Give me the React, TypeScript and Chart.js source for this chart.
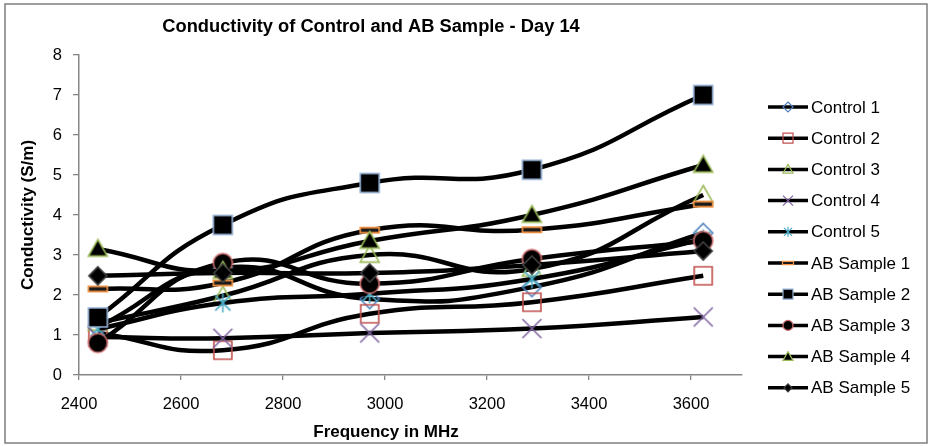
import React, { useEffect, useRef } from 'react';
import { Chart, registerables } from 'chart.js';

Chart.register(...registerables);

const FONT = '"Liberation Sans", Arial, Helvetica, sans-serif';

// ---- data ----
const frequencies = [2437, 2682, 2970, 3288, 3624];
const control1 = [1.2, 2.68, 1.9, 2.2, 3.55];
const control2 = [1.05, 0.62, 1.53, 1.82, 2.48];
const control3 = [1.3, 1.98, 3.0, 2.65, 4.5];
const control4 = [0.95, 0.92, 1.05, 1.16, 1.45];
const control5 = [1.15, 1.8, 2.03, 2.4, 3.4];
const abSample1 = [2.15, 2.3, 3.62, 3.63, 4.27];
const abSample2 = [1.44, 3.75, 4.8, 5.13, 7.0];
const abSample3 = [0.8, 2.8, 2.28, 2.9, 3.35];
const abSample4 = [3.15, 2.6, 3.35, 4.0, 5.25];
const abSample5 = [2.48, 2.55, 2.55, 2.75, 3.1];

const seriesNames = [
  'Control 1', 'Control 2', 'Control 3', 'Control 4', 'Control 5',
  'AB Sample 1', 'AB Sample 2', 'AB Sample 3', 'AB Sample 4', 'AB Sample 5',
];
const seriesValues = [
  control1, control2, control3, control4, control5,
  abSample1, abSample2, abSample3, abSample4, abSample5,
];

const xMin = 2400;
const xMax = 3700;
const xStep = 200;
const yMin = 0;
const yMax = 8;
const yStep = 1;

const chartTitle = 'Conductivity of Control and AB Sample - Day 14';
const xTitle = 'Frequency in MHz';
const yTitle = 'Conductivity (S/m)';

// ---- styles ----
type Kind = 'diamond' | 'square' | 'triangle' | 'x' | 'asterisk' | 'dash' | 'circle';
const markerKinds: Kind[] = ['diamond', 'square', 'triangle', 'x', 'asterisk', 'dash', 'square', 'circle', 'triangle', 'diamond'];
const markerStrokes = ['#4F81BD', '#C0504D', '#9BBB59', '#8064A2', '#4BACC6', '#F79646', '#95B3D7', '#D07070', '#9BBB59', '#404040'];
const markerFills = ['', '', '', '', '', '#1a1a1a', '#000000', '#000000', '#000000', '#000000'];
const markerSizes = [19, 18, 19, 19, 19, 19, 19, 19, 19, 18];
const legendMarkerSizes = [10, 10, 10, 10, 10, 11, 10, 10, 10, 8];

function drawMarker(ctx: CanvasRenderingContext2D, kind: Kind, cx: number, cy: number, s: number, stroke: string, fill: string, lw: number) {
  const h = s / 2;
  ctx.save();
  ctx.lineWidth = lw;
  ctx.strokeStyle = stroke;
  ctx.lineJoin = 'miter';
  ctx.beginPath();
  switch (kind) {
    case 'diamond':
      ctx.moveTo(cx, cy - h);
      ctx.lineTo(cx + h, cy);
      ctx.lineTo(cx, cy + h);
      ctx.lineTo(cx - h, cy);
      ctx.closePath();
      break;
    case 'square':
      ctx.rect(cx - h, cy - h, s, s);
      break;
    case 'triangle':
      ctx.moveTo(cx, cy - h);
      ctx.lineTo(cx + h, cy + h * 0.75);
      ctx.lineTo(cx - h, cy + h * 0.75);
      ctx.closePath();
      break;
    case 'x':
      ctx.moveTo(cx - h, cy - h);
      ctx.lineTo(cx + h, cy + h);
      ctx.moveTo(cx + h, cy - h);
      ctx.lineTo(cx - h, cy + h);
      break;
    case 'asterisk': {
      const d = h * 0.8;
      ctx.moveTo(cx - d, cy - d);
      ctx.lineTo(cx + d, cy + d);
      ctx.moveTo(cx + d, cy - d);
      ctx.lineTo(cx - d, cy + d);
      ctx.moveTo(cx, cy - h);
      ctx.lineTo(cx, cy + h);
      break;
    }
    case 'dash':
      ctx.rect(cx - h, cy - s * 0.14, s, s * 0.28);
      break;
    case 'circle':
      ctx.arc(cx, cy, h, 0, Math.PI * 2);
      break;
  }
  if (fill) {
    ctx.fillStyle = fill;
    ctx.fill();
  }
  ctx.stroke();
  ctx.restore();
}

function markerImage(i: number): HTMLCanvasElement {
  const s = markerSizes[i];
  const c = document.createElement('canvas');
  c.width = s + 6;
  c.height = s + 6;
  const ctx = c.getContext('2d')!;
  drawMarker(ctx, markerKinds[i], c.width / 2, c.height / 2, s, markerStrokes[i], markerFills[i], 1.6);
  return c;
}

const backgroundPlugin = {
  id: 'excelFrame',
  beforeDraw(chart: any) {
    const { ctx, width, height } = chart;
    ctx.save();
    ctx.fillStyle = '#ffffff';
    ctx.fillRect(0, 0, width, height);
    ctx.strokeStyle = '#7f7f7f';
    ctx.lineWidth = 1.5;
    ctx.strokeRect(5, 4, width - 11, height - 7);
    ctx.restore();
  },
};

const legendPlugin = {
  id: 'excelLegend',
  afterDraw(chart: any) {
    const ctx: CanvasRenderingContext2D = chart.ctx;
    // x-axis title, placed as in the reference (slightly left of the plot centre)
    ctx.save();
    ctx.fillStyle = '#000';
    ctx.font = `bold 17px ${FONT}`;
    ctx.textAlign = 'center';
    ctx.textBaseline = 'middle';
    ctx.fillText(xTitle, 386, 432);
    ctx.restore();

    const x0 = 768;
    const x1 = 808;
    const top = 107;
    const step = 31.2;
    chart.data.datasets.forEach((ds: any, i: number) => {
      const y = top + i * step;
      ctx.save();
      ctx.strokeStyle = '#000';
      ctx.lineWidth = 3.5;
      ctx.beginPath();
      ctx.moveTo(x0, y);
      ctx.lineTo(x1, y);
      ctx.stroke();
      drawMarker(ctx, markerKinds[i], (x0 + x1) / 2, y, legendMarkerSizes[i], markerStrokes[i], markerFills[i], 1.2);
      ctx.fillStyle = '#000';
      ctx.font = `17px ${FONT}`;
      ctx.textBaseline = 'middle';
      ctx.textAlign = 'left';
      ctx.fillText(ds.label, 811, y + 1);
      ctx.restore();
    });
  },
};

export default function App() {
  const ref = useRef<HTMLCanvasElement | null>(null);

  useEffect(() => {
    if (!ref.current) return;
    const n = seriesNames.length;
    const datasets = seriesNames.map((name, i) => ({
      label: name,
      data: frequencies.map((f, j) => ({ x: f, y: seriesValues[i][j] })),
      borderColor: '#000000',
      backgroundColor: '#000000',
      borderWidth: 4.5,
      tension: 0.5,
      pointStyle: markerImage(i),
      pointRadius: 9,
      pointHoverRadius: 9,
      order: n - i,
    }));

    const chart = new Chart(ref.current, {
      type: 'line',
      data: { datasets },
      plugins: [backgroundPlugin, legendPlugin],
      options: {
        animation: false,
        responsive: false,
        layout: { padding: { top: 0, right: 191, bottom: 0, left: 0 } },
        plugins: {
          legend: { display: false },
          tooltip: { enabled: false },
          title: {
            display: true,
            text: chartTitle,
            color: '#000',
            font: { family: FONT, size: 18.3, weight: 'bold' },
            padding: { top: 16, bottom: 17 },
          },
        },
        scales: {
          x: {
            type: 'linear',
            min: xMin,
            max: xMax,
            afterFit: (scale: any) => { scale.height = 71; },
            ticks: {
              stepSize: xStep,
              includeBounds: false,
              color: '#000',
              font: { family: FONT, size: 16.5 },
              padding: 15,
              maxRotation: 0,
              callback: (v: any) => String(v),
            },
            grid: { display: true, drawOnChartArea: false, drawTicks: true, tickLength: 5, color: '#868686', lineWidth: 1.3 },
            border: { display: true, color: '#868686', width: 1.5 },
            title: { display: false },
          },
          y: {
            type: 'linear',
            min: yMin,
            max: yMax,
            afterFit: (scale: any) => { scale.width = 79; },
            ticks: {
              stepSize: yStep,
              color: '#000',
              font: { family: FONT, size: 16.5 },
              padding: 11,
            },
            grid: { display: true, drawOnChartArea: false, drawTicks: true, tickLength: 6, color: '#868686', lineWidth: 1.3 },
            border: { display: true, color: '#868686', width: 1.5 },
            title: {
              display: true,
              text: yTitle,
              color: '#000',
              font: { family: FONT, size: 17, weight: 'bold' },
              padding: { top: 18, bottom: 0 },
            },
          },
        },
      } as any,
    });
    return () => chart.destroy();
  }, []);

  return (
    <div style={{ position: 'absolute', left: 0, top: 0, width: 933, height: 446 }}>
      <canvas ref={ref} width={933} height={446} />
    </div>
  );
}
